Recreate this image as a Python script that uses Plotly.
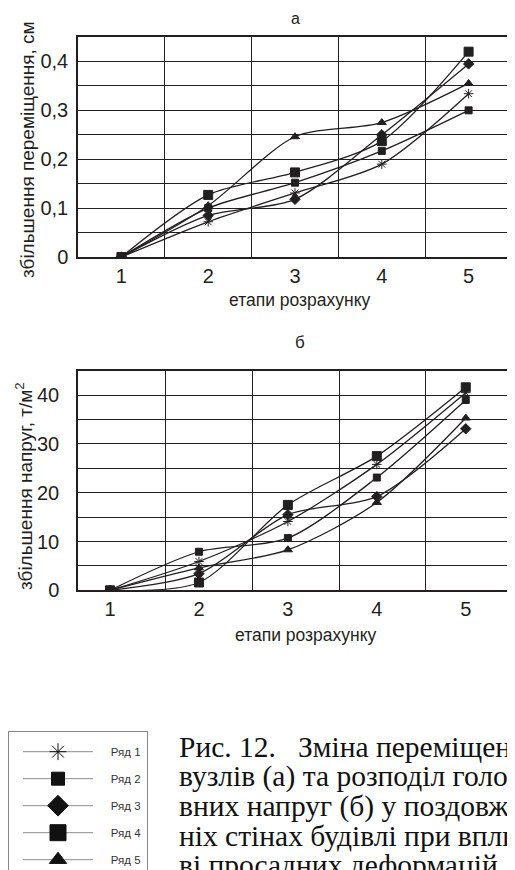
import plotly.graph_objects as go

# ---------------- data ----------------
stages = [1, 2, 3, 4, 5]
series_names = ["Ряд 1", "Ряд 2", "Ряд 3", "Ряд 4", "Ряд 5"]

# (а) збільшення переміщення, см
disp_r1 = [0, 0.072, 0.131, 0.190, 0.334]
disp_r2 = [0, 0.100, 0.152, 0.217, 0.300]
disp_r3 = [0, 0.085, 0.118, 0.250, 0.395]
disp_r4 = [0, 0.127, 0.173, 0.237, 0.420]
disp_r5 = [0, 0.105, 0.246, 0.275, 0.355]

# (б) збільшення напруг, т/м2
stress_r1 = [0, 5.9, 14.1, 25.8, 40.5]
stress_r2 = [0, 7.9, 10.7, 23.1, 39.0]
stress_r3 = [0, 3.4, 15.5, 19.2, 33.1]
stress_r4 = [0, 1.6, 17.5, 27.5, 41.6]
stress_r5 = [0, 4.6, 8.3, 18.0, 35.3]

disp_ticks = [0, 0.1, 0.2, 0.3, 0.4]
disp_ticktext = ["0", "0,1", "0,2", "0,3", "0,4"]
stress_ticks = [0, 10, 20, 30, 40]
stress_ticktext = ["0", "10", "20", "30", "40"]
stage_ticktext = ["1", "2", "3", "4", "5"]

caption_lines = [
    "Рис. 12.   Зміна переміщень",
    "вузлів (а) та розподіл голо-",
    "вних напруг (б) у поздовж-",
    "ніх стінах будівлі при впли-",
    "ві просадних деформацій",
]

# ---------------- styling ----------------
W, H = 515, 870
OFF = 8  # the page body margin shifts the figure by 8 px
INK = "#231f20"
SANS = "Liberation Sans, Arial, sans-serif"
SERIF = "Liberation Serif, Times New Roman, serif"

chart_symbols = ["asterisk-open", "square", "diamond", "square", "triangle-up"]
chart_sizes = [8, 7, 8, 9, 8]
legend_symbols = ["asterisk-open", "square", "diamond", "square", "triangle-up"]
legend_sizes = [14, 13, 16, 16, 15]
legend_line_colors = ["#777777", "#111111", "#111111", "#111111", "#111111"]


def px_x(p):
    return (p - OFF) / W


def px_y(p):
    return 1 - (p - OFF) / H


fig = go.Figure()

disp = [disp_r1, disp_r2, disp_r3, disp_r4, disp_r5]
stress = [stress_r1, stress_r2, stress_r3, stress_r4, stress_r5]

for i, name in enumerate(series_names):
    mk = dict(symbol=chart_symbols[i], size=chart_sizes[i], color=INK,
              line=dict(color=INK, width=1))
    fig.add_trace(go.Scatter(
        x=stages, y=disp[i], name=name, mode="lines+markers",
        line=dict(color=INK, width=1.3, shape="spline", smoothing=0.8),
        marker=mk, xaxis="x", yaxis="y", showlegend=False,
        legendgroup=name))
    fig.add_trace(go.Scatter(
        x=stages, y=stress[i], name=name, mode="lines+markers",
        line=dict(color=INK, width=1.3, shape="spline", smoothing=0.8),
        marker=mk, xaxis="x2", yaxis="y2", showlegend=False,
        legendgroup=name))

# legend entries (no data, only legend symbols)
for i, name in enumerate(series_names):
    fig.add_trace(go.Scatter(
        x=[None], y=[None], name="\u00a0\u00a0\u00a0\u00a0" + name,
        mode="lines+markers",
        line=dict(color="#8c8c8c", width=1),
        marker=dict(symbol=legend_symbols[i], size=legend_sizes[i],
                    color="#111111",
                    line=dict(color=legend_line_colors[i], width=1)),
        xaxis="x", yaxis="y", legendgroup=name, showlegend=True))

axis_common = dict(
    showline=True, mirror=True, linecolor=INK, linewidth=1.5,
    zeroline=False, ticks="", automargin=False,
    tickfont=dict(family=SANS, size=20, color=INK),
)

fig.update_layout(
    width=W, height=H,
    margin=dict(l=0, r=0, t=0, b=0, pad=0, autoexpand=False),
    paper_bgcolor="white", plot_bgcolor="white",
    font=dict(family=SANS, color=INK),
    xaxis=dict(
        domain=[px_x(78), px_x(512)], anchor="y", range=[0.5, 5.5],
        tickmode="array", tickvals=stages, ticktext=stage_ticktext,
        showgrid=False, ticklabelstandoff=0,
        minor=dict(tickmode="array", tickvals=[1.5, 2.5, 3.5, 4.5],
                   showgrid=True, gridcolor=INK, gridwidth=1, ticks=""),
        **axis_common),
    yaxis=dict(
        domain=[px_y(257), px_y(37)], anchor="x", range=[0, 0.45],
        tickmode="array", tickvals=disp_ticks, ticktext=disp_ticktext,
        showgrid=True, gridcolor=INK, gridwidth=1, ticklabelstandoff=4,
        minor=dict(dtick=0.05, tick0=0, showgrid=True, gridcolor=INK,
                   gridwidth=1, ticks=""),
        **axis_common),
    xaxis2=dict(
        domain=[px_x(78), px_x(512)], anchor="y2", range=[0.64, 5.52],
        tickmode="array", tickvals=stages, ticktext=stage_ticktext,
        showgrid=False, ticklabelstandoff=0,
        minor=dict(tickmode="array", tickvals=[1.62, 2.6, 3.58, 4.55],
                   showgrid=True, gridcolor=INK, gridwidth=1, ticks=""),
        **axis_common),
    yaxis2=dict(
        domain=[px_y(590.3), px_y(370.7)], anchor="x2", range=[0, 45],
        tickmode="array", tickvals=stress_ticks, ticktext=stress_ticktext,
        showgrid=True, gridcolor=INK, gridwidth=1, ticklabelstandoff=13,
        minor=dict(dtick=5, tick0=0, showgrid=True, gridcolor=INK,
                   gridwidth=1, ticks=""),
        **axis_common),
    legend=dict(
        x=0, y=px_y(731), xanchor="left", yanchor="top",
        bordercolor="#888888", borderwidth=1, bgcolor="white",
        font=dict(family=SANS, size=11.5, color="#333333"),
        title=dict(text="\u00a0", font=dict(size=4)),
        itemwidth=70, tracegroupgap=8, traceorder="grouped",
        indentation=9,
        itemclick=False, itemdoubleclick=False,
    ),
    showlegend=True,
)

annots = []
# panel titles
annots.append(dict(text="а", x=px_x(295), y=px_y(19), font=dict(size=16)))
annots.append(dict(text="б", x=px_x(300), y=px_y(343), font=dict(size=17)))
# x axis titles
annots.append(dict(text="етапи розрахунку", x=px_x(300), y=px_y(300),
                   font=dict(size=17.5)))
annots.append(dict(text="етапи розрахунку", x=px_x(306), y=px_y(635),
                   font=dict(size=17.5)))
# y axis titles
annots.append(dict(text="збільшення переміщення, см", x=px_x(28), y=px_y(150),
                   textangle=-90, font=dict(size=19)))
annots.append(dict(text="збільшення напруг, т/м<sup>2</sup>", x=px_x(24),
                   y=px_y(486), textangle=-90, font=dict(size=19)))

for a in annots:
    a.update(xref="paper", yref="paper", showarrow=False,
             xanchor="center", yanchor="middle")
    a["font"].update(family=SANS, color=INK)

# caption (clipped at right edge like the reference page)
for k, line in enumerate(caption_lines):
    annots.append(dict(
        text=line, xref="paper", yref="paper", showarrow=False,
        x=px_x(177), y=px_y(747 + 29.5 * k), xanchor="left", yanchor="middle",
        font=dict(family=SERIF, size=29.5, color="#111111")))

fig.update_layout(annotations=annots)

fig.write_html("out.html")
